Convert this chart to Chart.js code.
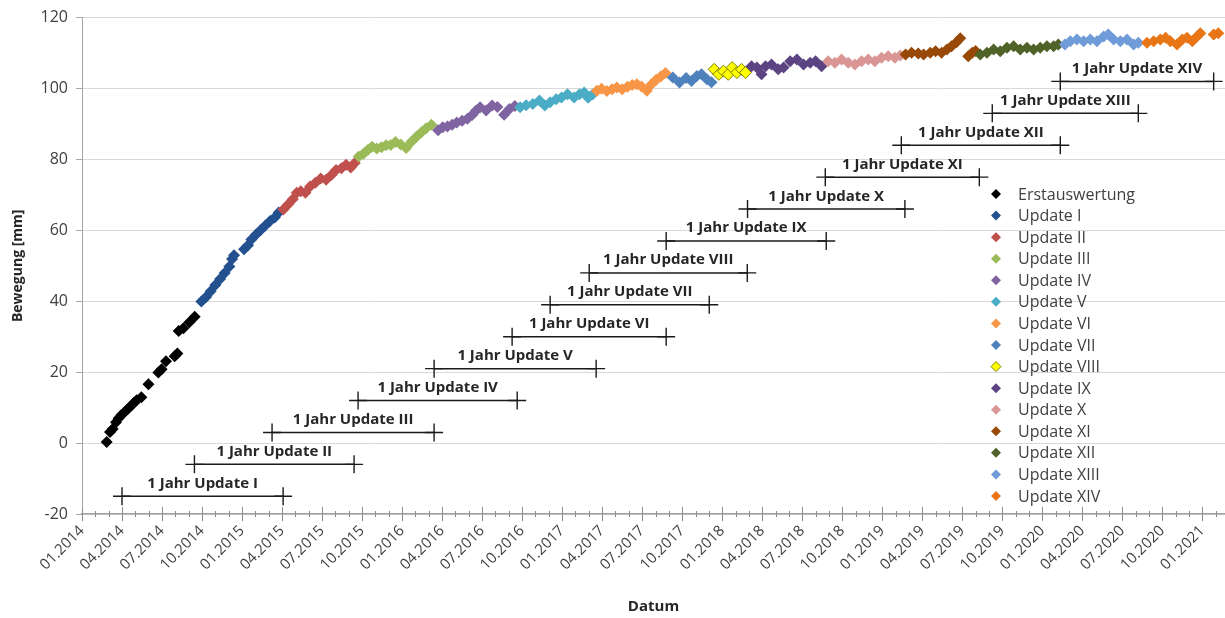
<!DOCTYPE html>
<html>
<head>
<meta charset="utf-8">
<script src="https://cdn.jsdelivr.net/npm/chart.js@4/dist/chart.umd.min.js"></script>
<style>
html,body{margin:0;padding:0;background:#fff;}
#wrap{width:1225px;height:618px;position:relative;}
</style>
</head>
<body>
<div id="wrap"><canvas id="c" width="1225" height="618"></canvas></div>
<script>
// x values are months since 01.2014 (0 = 01.2014, 3 = 04.2014, ...)
const xTickLabels = ['01.2014','04.2014','07.2014','10.2014','01.2015','04.2015','07.2015','10.2015',
  '01.2016','04.2016','07.2016','10.2016','01.2017','04.2017','07.2017','10.2017',
  '01.2018','04.2018','07.2018','10.2018','01.2019','04.2019','07.2019','10.2019',
  '01.2020','04.2020','07.2020','10.2020','01.2021'];

const seriesNames = ['Erstauswertung','Update I','Update II','Update III','Update IV','Update V','Update VI',
  'Update VII','Update VIII','Update IX','Update X','Update XI','Update XII','Update XIII','Update XIV'];

const erstauswertung = [[1.85,0.3],[2.1,3.1],[2.3,4.0],[2.55,5.9],[2.75,7.0],[2.95,7.9],[3.2,8.8],[3.45,9.7],[3.7,10.6],[3.9,11.4],[4.1,12.1],[4.45,12.9],[4.98,16.6],[5.72,19.9],[5.97,20.8],[6.3,23.1],[6.95,24.5],[7.15,25.3],[7.25,31.6],[7.6,32.4],[8.05,34.1],[8.45,35.6]];
const update1 = [[8.95,39.9],[9.3,41.2],[9.65,42.8],[10.0,44.6],[10.35,46.3],[10.7,48.0],[11.05,49.8],[11.25,51.9],[11.4,53.0],[12.15,54.7],[12.45,55.8],[12.7,57.4],[13.05,58.8],[13.4,60.1],[13.75,61.4],[14.1,62.6],[14.45,63.6],[14.75,65.0]];
const update2 = [[15.1,65.9],[15.45,67.3],[15.8,68.8],[16.1,70.6],[16.4,71.0],[16.75,70.6],[17.1,72.4],[17.5,73.4],[17.9,74.6],[18.3,74.3],[18.7,75.6],[19.05,77.0],[19.45,77.5],[19.8,78.5],[20.15,77.7],[20.45,79.0]];
const update3 = [[20.75,80.8],[21.1,81.6],[21.45,82.7],[21.75,83.6],[22.1,83.1],[22.45,83.4],[22.8,84.0],[23.15,84.1],[23.5,84.9],[23.9,84.2],[24.3,83.2],[24.7,85.0],[25.1,86.5],[25.45,87.7],[25.8,88.8],[26.2,89.8]];
const update4 = [[26.7,88.2],[27.05,89.1],[27.4,89.3],[27.75,89.8],[28.1,90.4],[28.5,90.9],[28.9,91.5],[29.25,92.5],[29.55,93.8],[29.85,94.7],[30.3,93.8],[30.75,95.2],[31.15,94.8],[31.65,92.6],[32.05,94.2],[32.45,95.1]];
const update5 = [[32.85,94.7],[33.3,95.3],[33.8,95.6],[34.3,96.6],[34.7,95.2],[35.1,96.1],[35.55,97.0],[35.95,97.5],[36.4,98.4],[36.9,97.5],[37.3,98.4],[37.65,98.9],[37.95,97.4],[38.3,98.4]];
const update6 = [[38.6,99.4],[38.95,99.9],[39.35,99.3],[39.75,99.8],[40.1,100.3],[40.5,99.8],[40.9,100.5],[41.25,101.0],[41.6,101.2],[41.95,100.6],[42.35,99.4],[42.7,101.2],[43.05,102.5],[43.4,103.4],[43.75,104.4]];
const update7 = [[44.3,103.1],[44.8,101.7],[45.3,103.0],[45.7,102.1],[46.1,103.5],[46.45,104.0],[46.85,102.6],[47.2,101.8]];
const update8 = [[47.4,105.4],[47.75,104.0],[48.1,104.9],[48.45,104.0],[48.75,105.9],[49.1,104.5],[49.45,105.4],[49.75,104.5]];
const update9 = [[50.2,106.3],[50.6,105.9],[50.95,104.0],[51.25,106.3],[51.7,106.8],[52.2,105.4],[52.6,105.9],[53.1,107.7],[53.6,108.2],[54.1,106.8],[54.6,107.3],[55.0,107.7],[55.45,106.3]];
const update10 = [[55.95,107.7],[56.45,107.3],[56.95,108.2],[57.45,107.3],[57.95,106.8],[58.45,107.7],[58.95,108.2],[59.45,107.7],[59.95,108.7],[60.45,109.1],[60.95,108.7],[61.35,109.3]];
const update11 = [[61.75,109.6],[62.2,110.1],[62.7,109.9],[63.1,109.6],[63.6,110.1],[64.0,110.5],[64.45,110.1],[64.85,111.0],[65.2,111.9],[65.55,113.0],[65.85,114.2],[66.45,109.1],[66.75,110.1],[67.0,110.6]];
const update12 = [[67.35,109.6],[67.85,110.1],[68.35,111.0],[68.85,110.5],[69.35,111.5],[69.85,111.9],[70.35,111.0],[70.85,111.5],[71.35,111.0],[71.85,111.5],[72.35,111.9],[72.85,111.9],[73.2,112.4]];
const update13 = [[73.7,112.4],[74.1,113.3],[74.6,113.8],[75.1,113.3],[75.6,113.8],[76.1,113.3],[76.6,114.7],[76.95,115.2],[77.35,113.8],[77.85,113.3],[78.35,113.8],[78.85,112.4],[79.2,112.9]];
const update14 = [[79.85,112.9],[80.35,113.3],[80.85,113.8],[81.25,114.3],[81.6,113.3],[82.1,112.4],[82.5,113.8],[82.85,114.3],[83.25,113.3],[83.6,114.7],[83.85,115.6],[84.85,115.2],[85.2,115.6]];

const jahrUpdateNames = ['1 Jahr Update I','1 Jahr Update II','1 Jahr Update III','1 Jahr Update IV','1 Jahr Update V',
  '1 Jahr Update VI','1 Jahr Update VII','1 Jahr Update VIII','1 Jahr Update IX','1 Jahr Update X',
  '1 Jahr Update XI','1 Jahr Update XII','1 Jahr Update XIII','1 Jahr Update XIV'];
const jahrUpdateStart = [3.0, 8.43, 14.25, 20.7, 26.4, 32.25, 35.1, 38.03, 43.8, 49.9, 55.73, 61.43, 68.25, 73.35];
const jahrUpdateEnd   = [15.08, 20.4, 26.4, 32.63, 38.55, 43.8, 47.03, 49.88, 55.8, 61.7, 67.28, 73.35, 79.2, 84.85];
const jahrUpdateLevel = [-15, -6, 3, 12, 21, 30, 39, 48, 57, 66, 75, 84, 93, 102];

// styles
const seriesData = [erstauswertung, update1, update2, update3, update4, update5, update6, update7,
  update8, update9, update10, update11, update12, update13, update14];
const seriesColors = ['#000000','#23508f','#c0504d','#9bbb59','#8064a2','#4bacc6','#f79646','#4f81bd',
  '#ffff00','#5c4483','#d99694','#984807','#4f6228','#6f9bd8','#e97616'];
const seriesBorders = [null,null,null,null,null,null,null,null,'#7f7f00',null,null,null,null,null,null];

const FONT = '"Open Sans", "Noto Sans", sans-serif';

const datasets = [];
seriesData.forEach((arr, i) => {
  datasets.push({
    label: seriesNames[i],
    data: arr.map(([x, y]) => ({x, y})),
    showLine: false,
    pointStyle: 'rectRot',
    pointRadius: 6,
    pointHoverRadius: 6,
    backgroundColor: seriesColors[i],
    borderColor: seriesBorders[i] || seriesColors[i],
    pointBorderWidth: seriesBorders[i] ? 1 : 0,
    order: 100 - i
  });
});
jahrUpdateNames.forEach((name, i) => {
  datasets.push({
    label: name,
    data: [{x: jahrUpdateStart[i], y: jahrUpdateLevel[i]}, {x: jahrUpdateEnd[i], y: jahrUpdateLevel[i]}],
    showLine: true,
    borderColor: '#1a1a1a',
    borderWidth: 1.5,
    pointStyle: 'cross',
    pointRadius: 9,
    pointHoverRadius: 9,
    pointBorderColor: '#1a1a1a',
    pointBorderWidth: 1.4,
    backgroundColor: 'transparent',
    order: 1
  });
});

const xTickPlugin = {
  id: 'xTickMarks',
  afterDraw(chart) {
    const {ctx, scales: {x}, chartArea} = chart;
    const yA = chartArea.bottom;
    ctx.save();
    ctx.strokeStyle = '#8c8c8c';
    ctx.lineWidth = 1;
    for (let m = 0; m <= Math.floor(x.max); m++) {
      const px = Math.round(x.getPixelForValue(m)) + 0.5;
      const h = (m % 3 === 0) ? 7 : 3;
      ctx.beginPath();
      ctx.moveTo(px, yA - h);
      ctx.lineTo(px, yA + h);
      ctx.stroke();
    }
    ctx.restore();
  }
};

const jahrLabelPlugin = {
  id: 'jahrLabels',
  afterDatasetsDraw(chart) {
    const {ctx, scales: {x, y}} = chart;
    ctx.save();
    ctx.font = 'bold 15px ' + FONT;
    ctx.fillStyle = '#262626';
    ctx.textAlign = 'center';
    ctx.textBaseline = 'alphabetic';
    jahrUpdateNames.forEach((t, i) => {
      const px = (x.getPixelForValue(jahrUpdateStart[i]) + x.getPixelForValue(jahrUpdateEnd[i])) / 2;
      const py = y.getPixelForValue(jahrUpdateLevel[i]);
      ctx.fillText(t, px, py - 8.5);
    });
    ctx.restore();
  }
};

const legendPlugin = {
  id: 'customLegend',
  afterDraw(chart) {
    const ctx = chart.ctx;
    ctx.save();
    ctx.font = '16px ' + FONT;
    ctx.textBaseline = 'middle';
    ctx.textAlign = 'left';
    seriesNames.forEach((name, i) => {
      const yy = 194 + i * 21.57;
      const xx = 996;
      const r = 5;
      ctx.beginPath();
      ctx.moveTo(xx - r, yy); ctx.lineTo(xx, yy - r); ctx.lineTo(xx + r, yy); ctx.lineTo(xx, yy + r);
      ctx.closePath();
      ctx.fillStyle = seriesColors[i];
      ctx.fill();
      if (seriesBorders[i]) { ctx.strokeStyle = seriesBorders[i]; ctx.lineWidth = 1; ctx.stroke(); }
      ctx.fillStyle = '#404040';
      ctx.fillText(name, 1018, yy + 1);
    });
    ctx.restore();
  }
};

new Chart(document.getElementById('c'), {
  type: 'scatter',
  data: {datasets},
  plugins: [xTickPlugin, jahrLabelPlugin, legendPlugin],
  options: {
    responsive: false,
    animation: false,
    devicePixelRatio: 1,
    layout: {autoPadding: false, padding: {top: 13, right: 0, left: 0, bottom: 0}},
    plugins: {legend: {display: false}, tooltip: {enabled: false}},
    scales: {
      x: {
        type: 'linear',
        min: 0,
        max: 85.7,
        afterBuildTicks: s => { s.ticks = xTickLabels.map((_, i) => ({value: i * 3})); },
        afterFit: s => { s.height = 104; s.paddingRight = 0; s.paddingLeft = 0; },
        ticks: {
          autoSkip: false,
          minRotation: 45,
          maxRotation: 45,
          padding: 8,
          color: '#404040',
          font: {family: FONT, size: 15},
          callback: v => xTickLabels[Math.round(v / 3)]
        },
        grid: {display: false, drawTicks: false},
        border: {display: true, color: '#a0a0a0', width: 1.5},
        title: {display: true, text: 'Datum', color: '#262626', font: {family: FONT, size: 15, weight: 'bold'}, padding: {top: 0, bottom: 2}}
      },
      y: {
        min: -20,
        max: 120,
        afterFit: s => { s.width = 82; },
        ticks: {stepSize: 20, padding: 8, color: '#404040', font: {family: FONT, size: 16}},
        grid: {color: '#d9d9d9', lineWidth: 1, tickColor: '#a6a6a6', tickLength: 6, drawTicks: true},
        border: {display: true, color: '#a6a6a6', width: 1},
        title: {display: true, text: 'Bewegung [mm]', color: '#262626', font: {family: FONT, size: 14, weight: 'bold'}, padding: {top: 10, bottom: 0}}
      }
    }
  }
});
</script>
</body>
</html>
